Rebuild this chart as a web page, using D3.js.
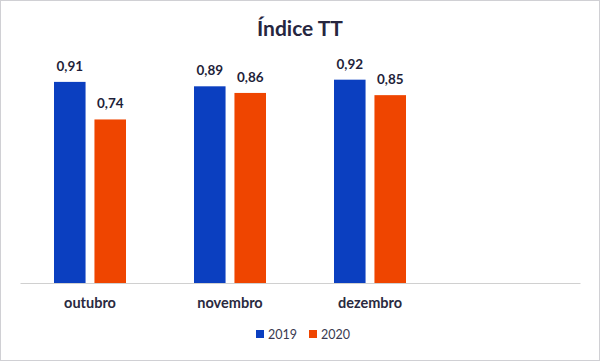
<!DOCTYPE html>
<html>
<head>
<meta charset="utf-8">
<script src="https://cdn.jsdelivr.net/npm/d3@7"></script>
<style>
  body { margin: 0; background: #fff; }
  svg { font-family: Lato, "Open Sans", sans-serif; }
</style>
</head>
<body>
<script>
// data
const months = ["outubro", "novembro", "dezembro", ""];
const series = ["2019", "2020"];
const values2019 = [0.91, 0.89, 0.92];
const values2020 = [0.74, 0.86, 0.85];
const seriesColors = ["#0b3fc0", "#ef4500"];

const rows = months.slice(0, 3).map(function(m, i) {
  return {month: m, values: [values2019[i], values2020[i]]};
});

const W = 600, H = 361;
const svg = d3.select("body").append("svg")
  .attr("width", W)
  .attr("height", H);

// frame
svg.append("rect")
  .attr("x", 0.5).attr("y", 0.5)
  .attr("width", W - 1).attr("height", H - 1)
  .attr("fill", "#fff")
  .attr("stroke", "#d0d0d4");

// title
svg.append("text")
  .attr("x", 300).attr("y", 36)
  .attr("text-anchor", "middle")
  .attr("font-size", 21).attr("font-weight", "bold")
  .attr("fill", "#26263f")
  .text("Índice TT");

// scales
const x = d3.scaleBand().domain(months).range([20, 580]);
const xs = d3.scaleBand().domain(series)
  .range([x.bandwidth() / 2 - 36, x.bandwidth() / 2 + 36])
  .paddingInner(0.22);
const y = d3.scaleLinear().domain([0, 1]).range([283, 62]);

// x axis
const xAxis = svg.append("g")
  .attr("transform", "translate(0,283)")
  .call(d3.axisBottom(x).tickSize(0).tickPadding(15));
xAxis.select(".domain").attr("stroke", "#d0d0d0");
xAxis.selectAll("text")
  .attr("font-size", 14.5).attr("font-weight", "bold")
  .attr("fill", "#2a2a40")
  .attr("font-family", "Lato, sans-serif");

// bars
const groups = svg.selectAll(".grp")
  .data(rows)
  .enter().append("g")
  .attr("class", "grp")
  .attr("transform", function(d) { return "translate(" + x(d.month) + ",0)"; });

const cells = groups.selectAll("g")
  .data(function(d) { return d.values.map(function(v, i) { return {key: series[i], value: v, i: i}; }); })
  .enter().append("g");

cells.append("rect")
  .attr("x", function(d) { return xs(d.key); })
  .attr("y", function(d) { return y(d.value); })
  .attr("width", xs.bandwidth())
  .attr("height", function(d) { return y(0) - y(d.value); })
  .attr("fill", function(d) { return seriesColors[d.i]; });

cells.append("text")
  .attr("x", function(d) { return xs(d.key) + xs.bandwidth() / 2; })
  .attr("y", function(d) { return y(d.value) - 11; })
  .attr("text-anchor", "middle")
  .attr("font-size", 13.5).attr("font-weight", "bold")
  .attr("fill", "#1f1f3a")
  .text(function(d) { return d3.format(".2f")(d.value).replace(".", ","); });

// legend
const legend = svg.append("g").attr("transform", "translate(256,330)");
const items = legend.selectAll("g")
  .data(series)
  .enter().append("g")
  .attr("transform", function(d, i) { return "translate(" + (i * 53) + ",0)"; });
items.append("rect")
  .attr("width", 8).attr("height", 8)
  .attr("fill", function(d, i) { return seriesColors[i]; });
items.append("text")
  .attr("x", 12).attr("y", 8.5)
  .attr("font-size", 12.5)
  .attr("fill", "#3a3a50")
  .text(function(d) { return d; });
</script>
</body>
</html>
